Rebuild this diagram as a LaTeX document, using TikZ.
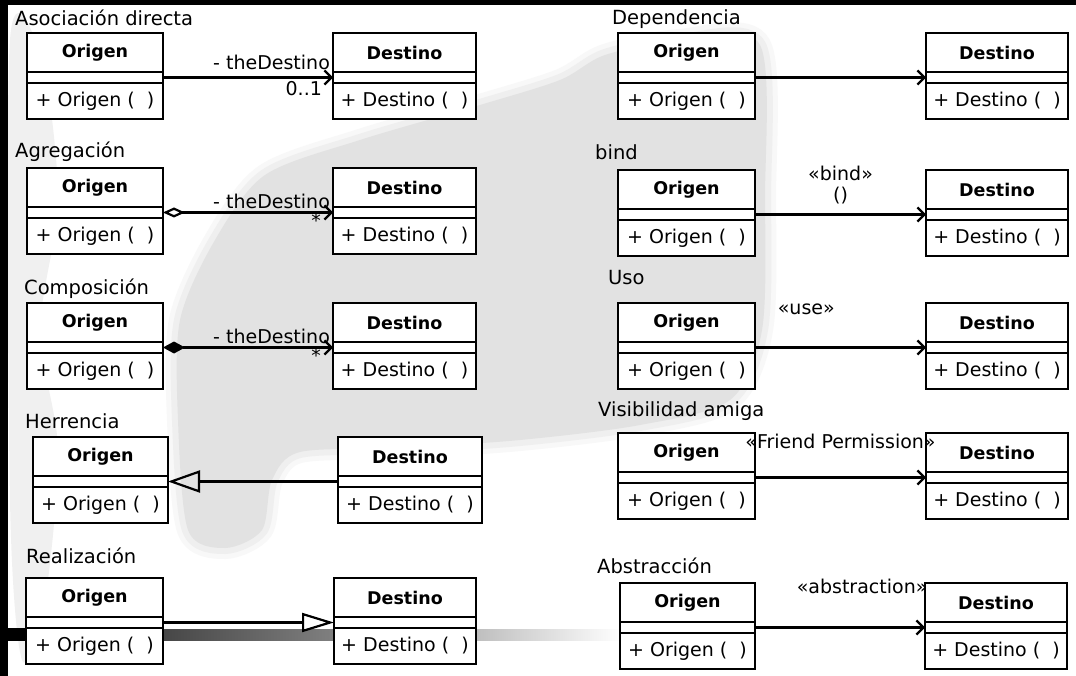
\documentclass[tikz,border=0pt]{standalone}
\usepackage{fontspec}
\setmainfont{DejaVu Sans}
\usepackage{tikz}
\usetikzlibrary{positioning, arrows.meta}
\definecolor{haze}{RGB}{226,226,226}
\definecolor{softhaze}{RGB}{240,240,240}

% class box: id, x, y, width, name, operation
\newcommand{\classbox}[6]{%
  \node[boxhead, minimum width=#4, anchor=north west] (#1) at (#2,#3) {#5};
  \node[boxattr, minimum width=#4, below=0pt of #1] (#1-a) {};
  \node[boxmeth, minimum width=#4, below=0pt of #1-a] (#1-m) {#6};
}

\begin{document}
\begin{tikzpicture}[x=1pt, y=-1pt,
    boxpart/.style={draw, line width=1.3pt, fill=white, inner sep=0pt, outer sep=0pt},
    boxhead/.style={boxpart, minimum height=39pt, font=\fontsize{17.5}{20}\selectfont\bfseries},
    boxattr/.style={boxpart, minimum height=11pt},
    boxmeth/.style={boxpart, minimum height=36pt, font=\fontsize{19}{22}\selectfont},
    title/.style={anchor=west, inner sep=0pt, font=\fontsize{19.5}{22}\selectfont},
    lbl/.style={font=\fontsize{19}{21}\selectfont, inner sep=2pt},
    link/.style={line width=2.2pt, -{Straight Barb[length=7pt, width=14pt]}},
    aggr/.style={line width=2.2pt, {Diamond[open, length=22pt, width=10pt]}-{Straight Barb[length=7pt, width=14pt]}},
    compo/.style={line width=2.2pt, {Diamond[length=22pt, width=12pt]}-{Straight Barb[length=7pt, width=14pt]}},
    inherit/.style={line width=2.2pt, -{Triangle[open, length=32pt, width=22pt]}},
  ]
  \useasboundingbox (0,0) rectangle (1076,676);
  \fill[white] (0,0) rectangle (1076,676);

  % grey watermark behind the boxes, soft rim first
  \foreach \w/\c in {22/25, 12/55}
    \draw[haze!\c, line width=\w pt] plot[smooth cycle] coordinates
      {(188,530) (178,420) (180,320) (215,240) (265,175) (360,140) (480,105)
      (560,80) (605,55) (680,40) (760,45) (765,200) (762,330) (730,400)
      (640,425) (520,440) (400,448) (300,452) (272,480) (262,530) (225,548)};
  \fill[haze] plot[smooth cycle] coordinates
    {(188,530) (178,420) (180,320) (215,240) (265,175) (360,140) (480,105)
    (560,80) (605,55) (680,40) (760,45) (765,200) (762,330) (730,400)
    (640,425) (520,440) (400,448) (300,452) (272,480) (262,530) (225,548)};
  \fill[softhaze] plot[smooth cycle] coordinates
    {(10,40) (42,60) (58,200) (40,330) (58,450) (45,600) (22,660) (10,500)};

  % frame and fading bar
  \fill[black] (0,0) rectangle (1076,5);
  \fill[black] (0,0) rectangle (8,676);
  \fill[black] (8,628) rectangle (27,641);
  \shade[left color=black!90, right color=black!50] (27,629) rectangle (334,640);
  \shade[left color=black!50, right color=white] (334,629) rectangle (622,640);

  % left column
  \node[title] at (15,18) {Asociación directa};
  \classbox{asoc-o}{27}{33}{136pt}{Origen}{+ Origen (\ \ )}
  \classbox{asoc-d}{333}{33}{143pt}{Destino}{+ Destino (\ \ )}
  \draw[link] (asoc-o-a.east) -- (asoc-d-a.west)
    node[lbl, pos=1, above left, yshift=5pt] {- theDestino}
    node[lbl, pos=1, below left, xshift=-8pt, yshift=-1pt] {0..1};

  \node[title] at (15,152) {Agregación};
  \classbox{agr-o}{27}{168}{136pt}{Origen}{+ Origen (\ \ )}
  \classbox{agr-d}{333}{168}{143pt}{Destino}{+ Destino (\ \ )}
  \draw[aggr] (agr-o-a.east) -- (agr-d-a.west)
    node[lbl, pos=1, above left, yshift=1pt] {- theDestino}
    node[lbl, pos=1, below left, xshift=-9pt, yshift=2pt] {*};

  \node[title] at (24,289) {Composición};
  \classbox{comp-o}{27}{303}{136pt}{Origen}{+ Origen (\ \ )}
  \classbox{comp-d}{333}{303}{143pt}{Destino}{+ Destino (\ \ )}
  \draw[compo] (comp-o-a.east) -- (comp-d-a.west)
    node[lbl, pos=1, above left, yshift=1pt] {- theDestino}
    node[lbl, pos=1, below left, xshift=-9pt, yshift=2pt] {*};

  \node[title] at (25,421) {Herrencia};
  \classbox{her-o}{33}{437}{135pt}{Origen}{+ Origen (\ \ )}
  \classbox{her-d}{338}{437}{144pt}{Destino}{+ Destino (\ \ )}
  \draw[inherit] (her-d-a.west) -- (her-o-a.east);

  \node[title] at (26,556) {Realización};
  \classbox{real-o}{26}{578}{137pt}{Origen}{+ Origen (\ \ )}
  \classbox{real-d}{334}{578}{142pt}{Destino}{+ Destino (\ \ )}
  \draw[line width=2.2pt, -{Triangle[open, length=32pt, width=19pt]}] (real-o-a.east) -- (real-d-a.west);

  % right column
  \node[title] at (612,19) {Dependencia};
  \classbox{dep-o}{618}{33}{137pt}{Origen}{+ Origen (\ \ )}
  \classbox{dep-d}{926}{33}{142pt}{Destino}{+ Destino (\ \ )}
  \draw[link] (dep-o-a.east) -- (dep-d-a.west);

  \node[title] at (595,152) {bind};
  \classbox{bind-o}{618}{170}{137pt}{Origen}{+ Origen (\ \ )}
  \classbox{bind-d}{926}{170}{142pt}{Destino}{+ Destino (\ \ )}
  \draw[link] (bind-o-a.east) -- (bind-d-a.west)
    node[lbl, midway, above, align=center, yshift=7pt] {«bind»\\()};

  \node[title] at (608,278) {Uso};
  \classbox{uso-o}{618}{303}{137pt}{Origen}{+ Origen (\ \ )}
  \classbox{uso-d}{926}{303}{142pt}{Destino}{+ Destino (\ \ )}
  \draw[link] (uso-o-a.east) -- (uso-d-a.west)
    node[lbl, pos=0.3, above=30pt] {«use»};

  \node[title] at (598,411) {Visibilidad amiga};
  \classbox{amiga-o}{618}{433}{137pt}{Origen}{+ Origen (\ \ )}
  \classbox{amiga-d}{926}{433}{142pt}{Destino}{+ Destino (\ \ )}
  \draw[link] (amiga-o-a.east) -- (amiga-d-a.west)
    node[lbl, midway, above=26pt] {«Friend Permission»};

  \node[title] at (597,566) {Abstracción};
  \classbox{abs-o}{620}{583}{135pt}{Origen}{+ Origen (\ \ )}
  \classbox{abs-d}{925}{583}{142pt}{Destino}{+ Destino (\ \ )}
  \draw[link] (abs-o-a.east) -- (abs-d-a.west)
    node[lbl, pos=0.63, above=31pt] {«abstraction»};
\end{tikzpicture}
\end{document}
